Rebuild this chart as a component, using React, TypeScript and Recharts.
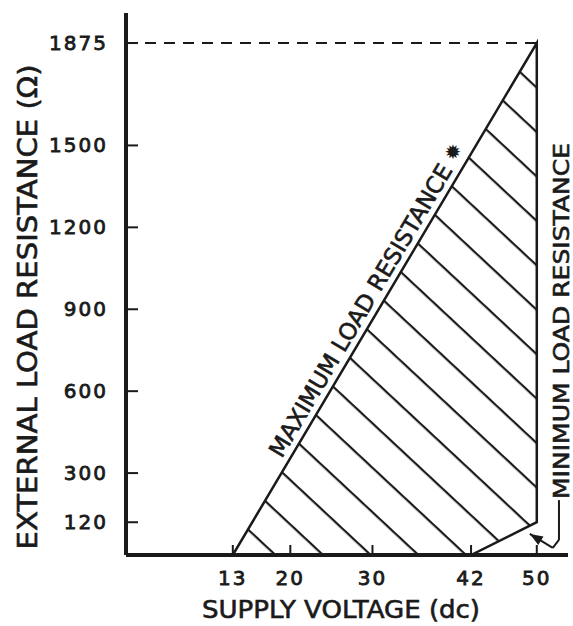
import React from "react";
import { Area, ComposedChart, ReferenceDot, ReferenceLine, XAxis, YAxis } from "recharts";

// corners of the operating region, walked in order
const REGION_VOLTS = [13, 50, 50, 42];
const REGION_LOAD = [0, 1875, 120, 0];

const X_TICKS = [13, 20, 30, 42, 50];
const Y_TICKS = [120, 300, 600, 900, 1200, 1500, 1875];

const TOP_LOAD = 1875;
const TOP_VOLTS = 50;

// callout arrow for "minimum load resistance"
const ARROW_VOLTS = [52.7, 52.7, 51.95, 49.15];
const ARROW_LOAD = [201, 55, 26, 77];

const INK = "#1a1a1a";
const FONT = "'DejaVu Sans', sans-serif";

const region = REGION_VOLTS.map((v, i) => ({ v, r: REGION_LOAD[i] }));
const arrow = ARROW_VOLTS.map((x, i) => ({ x, y: ARROW_LOAD[i] }));

const XTick = ({ x, y, payload }: any) => (
  <g>
    <line x1={x} y1={y} x2={x} y2={y - 10} stroke={INK} strokeWidth={2} />
    <text x={x} y={y + 30} textAnchor="middle" fontSize={20} letterSpacing={2} fill={INK} stroke={INK} strokeWidth={0.8} fontFamily={FONT}>
      {payload.value}
    </text>
  </g>
);

const YTick = ({ x, y, payload }: any) => (
  <g>
    <line x1={x} y1={y} x2={x + 12} y2={y} stroke={INK} strokeWidth={2} />
    <text x={x - 18} y={y + 7} textAnchor="end" fontSize={20} letterSpacing={2} fill={INK} stroke={INK} strokeWidth={0.8} fontFamily={FONT}>
      {payload.value}
    </text>
  </g>
);

export default function App() {
  return (
    <div style={{ position: "absolute", left: 0, top: 0, background: "#fff" }}>
      <ComposedChart
        width={573}
        height={626}
        data={region}
        margin={{ top: 13, right: 5, bottom: 31, left: 66 }}
      >
        <defs>
          <pattern
            id="hatch"
            patternUnits="userSpaceOnUse"
            width={20}
            height={32.5}
            patternTransform="translate(277 555) rotate(43)"
          >
            <rect x={0} y={0} width={20} height={2.2} fill={INK} />
          </pattern>
        </defs>
        <XAxis
          dataKey="v"
          type="number"
          domain={[0, 53.8]}
          ticks={X_TICKS}
          height={40}
          tickSize={0}
          tickMargin={0}
          tickLine={false}
          tick={<XTick />}
          axisLine={{ stroke: INK, strokeWidth: 4 }}
          allowDataOverflow
        />
        <YAxis
          type="number"
          domain={[0, 1985]}
          ticks={Y_TICKS}
          width={60}
          tickSize={0}
          tickMargin={0}
          tickLine={false}
          tick={<YTick />}
          axisLine={{ stroke: INK, strokeWidth: 4 }}
          allowDataOverflow
        />
        <ReferenceLine
          segment={[{ x: 0, y: TOP_LOAD }, { x: TOP_VOLTS, y: TOP_LOAD }]}
          stroke={INK}
          strokeWidth={2}
          strokeDasharray="11 8"
        />
        <Area
          type="linear"
          dataKey="r"
          stroke={INK}
          strokeWidth={2.5}
          fill="url(#hatch)"
          fillOpacity={1}
          dot={false}
          activeDot={false}
          isAnimationActive={false}
        />
        {arrow.slice(1).map((p, i) => (
          <ReferenceLine
            key={i}
            segment={[arrow[i], p]}
            stroke={INK}
            strokeWidth={2}
            ifOverflow="visible"
          />
        ))}
        <ReferenceDot
          x={ARROW_VOLTS[3]}
          y={ARROW_LOAD[3]}
          ifOverflow="visible"
          shape={(p: any) => (
            <polygon
              points="0,0 -13,-5 -13,5"
              fill={INK}
              transform={`translate(${p.cx},${p.cy}) rotate(211.3)`}
            />
          )}
        />
        <ReferenceDot
          x={30.13}
          y={868}
          ifOverflow="visible"
          shape={(p: any) => (
            <text
              x={p.cx}
              y={p.cy}
              dy={-7}
              transform={`rotate(-59.3 ${p.cx} ${p.cy})`}
              textAnchor="middle"
              fontSize={23}
              textLength={336}
              lengthAdjust="spacingAndGlyphs"
              fill={INK}
              stroke={INK}
              strokeWidth={0.6}
              fontFamily={FONT}
            >
              MAXIMUM LOAD RESISTANCE
            </text>
          )}
        />
        <ReferenceDot
          x={39.78}
          y={1476}
          ifOverflow="visible"
          shape={(p: any) => (
            <text x={p.cx} y={p.cy + 7} textAnchor="middle" fontSize={20} fill={INK} fontFamily={FONT}>
              ✹
            </text>
          )}
        />
        <ReferenceDot
          x={52.95}
          y={857}
          ifOverflow="visible"
          shape={(p: any) => (
            <text
              x={p.cx}
              y={p.cy}
              dy={8}
              transform={`rotate(-90 ${p.cx} ${p.cy})`}
              textAnchor="middle"
              fontSize={22}
              textLength={356}
              lengthAdjust="spacingAndGlyphs"
              fill={INK}
              stroke={INK}
              strokeWidth={0.6}
              fontFamily={FONT}
            >
              MINIMUM LOAD RESISTANCE
            </text>
          )}
        />
        <text
          x={27}
          y={307}
          dy={10}
          transform="rotate(-90 27 307)"
          textAnchor="middle"
          fontSize={27}
          textLength={485}
          lengthAdjust="spacingAndGlyphs"
          fill={INK}
          stroke={INK}
          strokeWidth={0.6}
          fontFamily={FONT}
        >
          EXTERNAL LOAD RESISTANCE (Ω)
        </text>
        <text
          x={341}
          y={618}
          textAnchor="middle"
          fontSize={24}
          textLength={278}
          lengthAdjust="spacingAndGlyphs"
          fill={INK}
          stroke={INK}
          strokeWidth={0.6}
          fontFamily={FONT}
        >
          SUPPLY VOLTAGE (dc)
        </text>
      </ComposedChart>
    </div>
  );
}
